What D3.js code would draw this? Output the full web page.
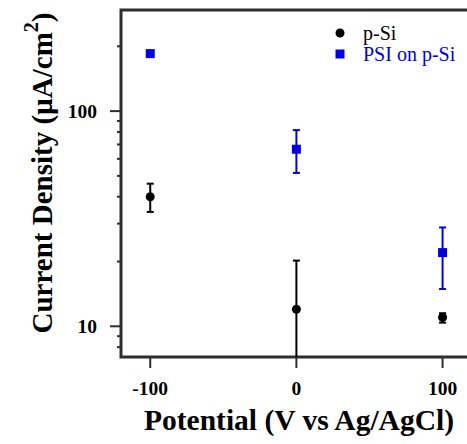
<!DOCTYPE html>
<html>
<head>
<meta charset="utf-8">
<script src="https://cdn.jsdelivr.net/npm/d3@7"></script>
<style>
  body { margin: 0; background: #fff; }
  text { font-family: "Liberation Serif", "Times New Roman", serif; }
</style>
</head>
<body>
<script>
// data
const potentials = [-100, 0, 100];
const pSi = [40, 12, 11];
const pSiLow = [34, 3.9, 10.4];
const pSiHigh = [46, 20.2, 11.5];
const psi = [185, 66.5, 22];
const psiLow = [185, 51.6, 14.9];
const psiHigh = [185, 81.6, 28.8];
const xTicks = [-100, 0, 100];
const yTicks = [10, 100];
const yMinorTicks = [8, 9, 20, 30, 40, 50, 60, 70, 80, 90, 200];
const seriesNames = ['p-Si', 'PSI on p-Si'];

const W = 467, H = 444;
const plotLeft = 121, plotTop = 10, plotBottom = 357;
const axisColor = '#2e2e2e';

const svg = d3.select('body').append('svg')
    .attr('width', W)
    .attr('height', H);

const x = d3.scaleLinear().domain([-120, 120]).range([plotLeft, 471.8]);
const y = d3.scaleLog().domain([7.2, 295]).range([plotBottom, plotTop]);

svg.append('clipPath').attr('id', 'plot')
  .append('rect')
    .attr('x', plotLeft).attr('y', plotTop)
    .attr('width', W - plotLeft).attr('height', plotBottom - plotTop);

// y axis major + minor ticks
const yAxis = svg.append('g').attr('transform', 'translate(' + plotLeft + ',0)');
yAxis.selectAll('line.minor').data(yMinorTicks).enter()
  .append('line')
    .attr('class', 'minor')
    .attr('x1', -4).attr('x2', 0)
    .attr('y1', d => y(d)).attr('y2', d => y(d))
    .attr('stroke', axisColor).attr('stroke-width', 2);
yAxis.selectAll('line.major').data(yTicks).enter()
  .append('line')
    .attr('class', 'major')
    .attr('x1', -11).attr('x2', 0)
    .attr('y1', d => y(d)).attr('y2', d => y(d))
    .attr('stroke', axisColor).attr('stroke-width', 2);
yAxis.selectAll('text').data(yTicks).enter()
  .append('text')
    .attr('x', -24)
    .attr('y', d => y(d))
    .attr('dy', '0.35em')
    .attr('text-anchor', 'end')
    .attr('font-size', 19.5)
    .attr('font-weight', 'bold')
    .text(d => d);

// x axis ticks
const xAxis = svg.append('g').attr('transform', 'translate(0,' + plotBottom + ')');
xAxis.selectAll('line').data(xTicks).enter()
  .append('line')
    .attr('x1', d => x(d)).attr('x2', d => x(d))
    .attr('y1', 0).attr('y2', 11)
    .attr('stroke', axisColor).attr('stroke-width', 2);
xAxis.selectAll('text').data(xTicks).enter()
  .append('text')
    .attr('x', d => x(d))
    .attr('y', 38)
    .attr('text-anchor', 'middle')
    .attr('font-size', 19.5)
    .attr('font-weight', 'bold')
    .text(d => d);

// frame: left, bottom, top
svg.append('path')
    .attr('d', 'M' + W + ',' + plotTop + 'H' + plotLeft + 'V' + plotBottom + 'H' + W)
    .attr('fill', 'none')
    .attr('stroke', axisColor)
    .attr('stroke-width', 3);

// axis titles
svg.append('text')
    .attr('x', 299)
    .attr('y', 430)
    .attr('text-anchor', 'middle')
    .attr('font-size', 29.5)
    .attr('font-weight', 'bold')
    .text('Potential (V vs Ag/AgCl)');

const yt = svg.append('text')
    .attr('transform', 'translate(52,173) rotate(-90)')
    .attr('text-anchor', 'middle')
    .attr('font-size', 29)
    .attr('font-weight', 'bold');
yt.append('tspan').text('Current Density (\u00b5A/cm');
yt.append('tspan').attr('dy', -14).attr('font-size', 20).text('2');
yt.append('tspan').attr('dy', 14).text(')');

// error bars + markers
const plot = svg.append('g').attr('clip-path', 'url(#plot)');

function drawSeries(vals, lo, hi, color, shape) {
    const g = plot.append('g');
    const rows = potentials.map((p, i) => ({ p: p, v: vals[i], lo: lo[i], hi: hi[i] }));
    const withErr = rows.filter(d => d.hi > d.lo);
    g.selectAll('line.err').data(withErr).enter()
      .append('line')
        .attr('x1', d => x(d.p)).attr('x2', d => x(d.p))
        .attr('y1', d => y(d.lo)).attr('y2', d => y(d.hi))
        .attr('stroke', color).attr('stroke-width', 2);
    ['lo', 'hi'].forEach(k => {
        g.selectAll('line.cap' + k).data(withErr).enter()
          .append('line')
            .attr('x1', d => x(d.p) - 3.5).attr('x2', d => x(d.p) + 3.5)
            .attr('y1', d => y(d[k])).attr('y2', d => y(d[k]))
            .attr('stroke', color).attr('stroke-width', 2);
    });
    if (shape === 'circle') {
        g.selectAll('circle').data(rows).enter()
          .append('circle')
            .attr('cx', d => x(d.p)).attr('cy', d => y(d.v))
            .attr('r', 4.5).attr('fill', color);
    } else {
        g.selectAll('rect').data(rows).enter()
          .append('rect')
            .attr('x', d => x(d.p) - 4.5).attr('y', d => y(d.v) - 4.5)
            .attr('width', 9).attr('height', 9).attr('fill', color);
    }
}

drawSeries(pSi, pSiLow, pSiHigh, '#000', 'circle');
drawSeries(psi, psiLow, psiHigh, '#0000e0', 'square');

// legend
const legend = svg.append('g').attr('transform', 'translate(340,33)');
legend.append('circle').attr('cx', 0).attr('cy', 0).attr('r', 4.5).attr('fill', '#000');
legend.append('text').attr('x', 23).attr('y', 0).attr('dy', '0.35em')
    .attr('font-size', 20).attr('fill', '#000').text(seriesNames[0]);
legend.append('rect').attr('x', -4.5).attr('y', 21 - 4.5).attr('width', 9).attr('height', 9).attr('fill', '#0000e0');
legend.append('text').attr('x', 23).attr('y', 21).attr('dy', '0.35em')
    .attr('font-size', 20).attr('fill', '#0000e0').text(seriesNames[1]);
</script>
</body>
</html>
